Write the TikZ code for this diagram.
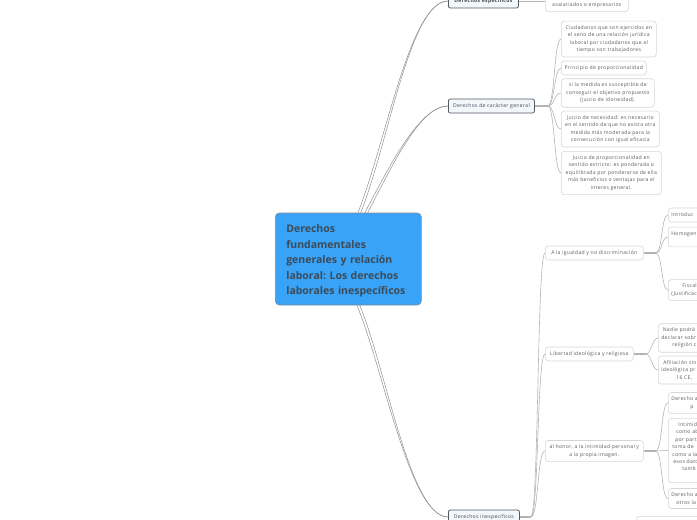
\documentclass[tikz,border=0pt]{standalone}
\usepackage{fontspec}
\setmainfont{Open Sans}
\newfontfamily\mmsmall[LetterSpace=6]{Open Sans}
\usetikzlibrary{positioning,calc}
\definecolor{mmBlue} {HTML}{38A3F7}
\definecolor{mmInk}  {HTML}{3E4B57}
\definecolor{mmEdge} {HTML}{4F5B66}
\definecolor{mmPale} {HTML}{F4F7FA}
\definecolor{mmRule} {HTML}{D6D6D6}
\definecolor{mmText} {HTML}{5C5C5C}
\definecolor{mmLine} {HTML}{B4B4B4}
\tikzset{
  rootbox/.style={draw=mmEdge!70,fill=mmBlue,rounded corners=4pt,line width=0.6pt,
    text=mmInk,font=\fontsize{10.5}{15.5}\selectfont\bfseries\frenchspacing,align=left,
    text width=124pt,inner xsep=11pt,minimum height=92pt,anchor=west},
  topicbox/.style={draw=mmEdge,fill=mmPale,rounded corners=2pt,line width=0.8pt,
    text=mmInk,font=\mmsmall\fontsize{5.1}{7}\selectfont,inner xsep=3pt,minimum height=14pt,anchor=west},
  leafbox/.style={draw=mmRule,fill=white,rounded corners=3pt,line width=0.6pt,
    text=mmText,font=\mmsmall\fontsize{5.1}{7.4}\selectfont,align=center,inner xsep=3pt,
    inner ysep=4.3pt,minimum height=14pt,anchor=west},
  cutbox/.style={leafbox,align=left,text width=60pt},
  branch/.style={draw=mmLine!80!black,line width=0.5pt},
  twig/.style={draw=mmLine,line width=0.6pt},
  stub/.style={draw=mmLine,line width=1.3pt}
}
\begin{document}
\begin{tikzpicture}[x=1pt,y=-1pt]
  \useasboundingbox (0,0) rectangle (697,520);
  \clip (0,0) rectangle (697,520);

  % centre
  \node[rootbox] (root) at (275,259)
    {\rule{0pt}{12pt}Derechos\\ fundamentales\\ generales y relación\\ laboral: Los derechos\\ laborales inespecíficos};

  % main topics
  \node[topicbox,font=\mmsmall\fontsize{5.1}{7}\selectfont\bfseries,minimum width=70pt] (espec) at (448,1) {Derechos específicos};
  \node[topicbox,minimum width=86pt] (general) at (448,106) {Derechos de carácter general};
  \node[topicbox,minimum width=71pt] (inespec) at (448,517) {Derechos inespecíficos};

  \foreach \d in {-1.4,1.4} {
    \draw[branch] ($(root.north)+({11+\d},0)$) .. controls +(28,-70) and +(-38,0) .. (espec.west);
    \draw[branch] ($(root.north)+({18+\d},0)$) .. controls +(25,-48) and +(-28,0) .. (general.west);
    \draw[branch] ($(root.south)+({10+\d},0)$) .. controls +(27,65) and +(-38,0) .. (inespec.west);
  }

  % especificos
  \node[leafbox,anchor=south west,text height=26pt,minimum width=83pt] (asal) at (545,12) {asalariados o empresarios};
  \draw[twig] (espec.east) -- (espec.east -| asal.west);

  % caracter general
  \node[leafbox,minimum width=95pt] (g1) at (561,39)
    {Ciudadanos que son ejercidos en\\ el seno de una relación jurídica\\ laboral por ciudadanos que al\\ tiempo son trabajadores};
  \node[leafbox,minimum width=85pt] (g2) at (561,68) {Principio de proporcionalidad};
  \node[leafbox,minimum width=93pt] (g3) at (561,93)
    {si la medida es susceptible de\\ conseguir el objetivo propuesto\\ (juicio de idoneidad).};
  \node[leafbox,minimum width=98pt] (g4) at (561,129)
    {Juicio de necesidad: es necesario\\ en el sentido de que no exista otra\\ medida más moderada para la\\ consecución con igual eficacia};
  \node[leafbox,minimum width=100pt] (g5) at (561,173)
    {Juicio de proporcionalidad en\\ sentido estricto: es ponderada o\\ equilibrada por ponderarse de ella\\ más beneficios o ventajas para el\\ interes general.};
  \coordinate (gJ) at ($(general.east)+(13,0)$);
  \draw[stub] (general.east) -- (gJ);
  \foreach \k in {1,...,5}
    \draw[twig] (gJ) .. controls +(7,0) and +(-7,0) .. (g\k.west);

  % inespecificos
  \node[leafbox,minimum width=98pt] (ig) at (545,253) {A la igualdad y no discriminación};
  \node[leafbox,minimum width=88pt] (lib) at (545,354) {Libertad ideológica y religiosa};
  \node[leafbox,minimum width=98pt] (hon) at (545,451) {al honor, a la intimidad personal y\\ a la propia imagen.};
  \node[leafbox,anchor=north west,minimum width=90pt,minimum height=20pt] (low) at (636,516) {};
  \coordinate (iJ) at ($(inespec.east)+(11,0)$);
  \draw[stub] (inespec.east) -- (iJ);
  \foreach \n in {ig,lib,hon}
    \draw[twig] (iJ) .. controls +(8,0) and +(-8,0) .. (\n.west);

  % igualdad
  \node[cutbox] (ig1) at (668,215) {Introduc};
  \node[cutbox] (ig2) at (668,237) {Homogen\\ \mbox{}};
  \node[cutbox] (ig3) at (668,290) {\hspace*{11pt}Fiscal\\ (Justificaci};
  \coordinate (igJ) at ($(ig.east)+(12,0)$);
  \draw[stub] (ig.east) -- (igJ);
  \foreach \n in {ig1,ig2,ig3}
    \draw[twig] (igJ) .. controls +(7,0) and +(-7,0) .. (\n.west);

  % libertad
  \node[cutbox] (lib1) at (658,338) {\hspace*{1.5pt}Nadie podrá\\ declarar sobr\\ \hspace*{11pt}religión c};
  \node[cutbox] (lib2) at (658,370) {\hspace*{2pt}Afiliación sin\\ ideológica pr\\ \hspace*{15pt}16 CE,};
  \coordinate (libJ) at ($(lib.east)+(12,0)$);
  \draw[stub] (lib.east) -- (libJ);
  \foreach \n in {lib1,lib2}
    \draw[twig] (libJ) .. controls +(6,0) and +(-6,0) .. (\n.west);

  % honor
  \node[cutbox] (hon1) at (668,403) {Derecho a\\ \hspace*{19pt}p};
  \node[cutbox] (hon2) at (668,450.5)
    {\hspace*{7pt}Intimid\\ \hspace*{5pt}como ab\\ \hspace*{4pt}por part\\ \hspace*{1pt}toma de\\
     \hspace*{1pt}como a la\\ \hspace*{2pt}esos dato\\ \hspace*{11pt}tamb\\ \mbox{}};
  \node[cutbox] (hon3) at (668,498.5) {Derecho a\\ \hspace*{5pt}otros la};
  \coordinate (honJ) at ($(hon.east)+(12,0)$);
  \draw[stub] (hon.east) -- (honJ);
  \foreach \n in {hon1,hon2,hon3}
    \draw[twig] (honJ) .. controls +(7,0) and +(-7,0) .. (\n.west);
\end{tikzpicture}
\end{document}
